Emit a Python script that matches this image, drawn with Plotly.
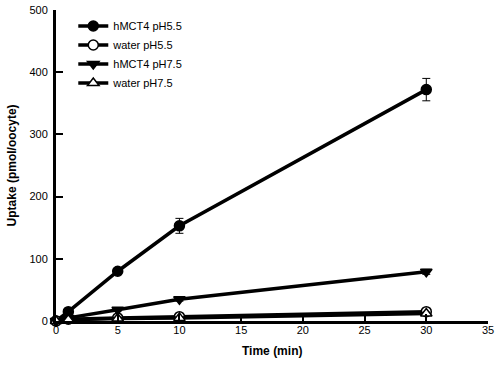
import plotly.graph_objects as go

time = [0, 1, 5, 10, 30]
hmct4_ph55 = [0, 15, 80, 153, 372]
hmct4_ph55_err = [0, 3, 4, 12, 18]
water_ph55 = [0, 3, 5, 7, 15]
water_ph55_err = [0, 1, 1, 2, 3]
hmct4_ph75 = [0, 5, 18, 35, 79]
hmct4_ph75_err = [0, 1, 2, 3, 4]
water_ph75 = [0, 2, 4, 5, 12]
water_ph75_err = [0, 1, 1, 1, 2]

series = [
    ("hMCT4 pH5.5", hmct4_ph55, hmct4_ph55_err, "circle", "black"),
    ("water pH5.5", water_ph55, water_ph55_err, "circle", "white"),
    ("hMCT4 pH7.5", hmct4_ph75, hmct4_ph75_err, "triangle-down", "black"),
    ("water pH7.5", water_ph75, water_ph75_err, "triangle-up", "white"),
]

fig = go.Figure()
for name, y, err, sym, fill in series:
    fig.add_trace(go.Scatter(
        x=time, y=y, name=name, mode="lines+markers",
        line=dict(color="black", width=3.5),
        marker=dict(symbol=sym, size=10, color=fill, line=dict(color="black", width=1.5)),
        error_y=dict(type="data", array=err, visible=True, color="black", thickness=1, width=4),
        cliponaxis=False,
    ))

font = "Liberation Sans, Arial, sans-serif"
fig.update_layout(
    width=500, height=375,
    margin=dict(l=56, r=12, t=10, b=54, autoexpand=False),
    plot_bgcolor="white", paper_bgcolor="white",
    font=dict(family=font, size=11, color="black"),
    showlegend=True,
    legend=dict(x=0.04, y=0.995, xanchor="left", yanchor="top",
                bgcolor="rgba(0,0,0,0)", font=dict(size=11, family=font),
                tracegroupgap=0, itemwidth=30),
    xaxis=dict(range=[0, 35], tickvals=[0, 5, 10, 15, 20, 25, 30, 35],
               showline=True, linecolor="black", linewidth=3,
               ticks="inside", ticklen=7, tickwidth=2, tickcolor="black",
               ticklabelstandoff=-3, ticklabeloverflow="allow", automargin=False,
               showgrid=False, zeroline=False),
    yaxis=dict(range=[0, 500], tickvals=[0, 100, 200, 300, 400, 500],
               showline=True, linecolor="black", linewidth=3,
               ticks="inside", ticklen=7, tickwidth=2, tickcolor="black",
               ticklabelstandoff=3, ticklabeloverflow="allow", automargin=False,
               showgrid=False, zeroline=False),
    annotations=[
        dict(text="<b>Time (min)</b>", xref="paper", yref="paper", x=0.5, y=-0.095,
             xanchor="center", yanchor="middle", showarrow=False,
             font=dict(size=12, family=font)),
        dict(text="<b>Uptake (pmol/oocyte)</b>", xref="paper", yref="paper", x=-0.102, y=0.5,
             xanchor="center", yanchor="middle", showarrow=False, textangle=-90,
             font=dict(size=12, family=font)),
    ],
)

fig.write_html("out.html", config={"displayModeBar": False},
               post_script="document.body.style.margin='0';")
